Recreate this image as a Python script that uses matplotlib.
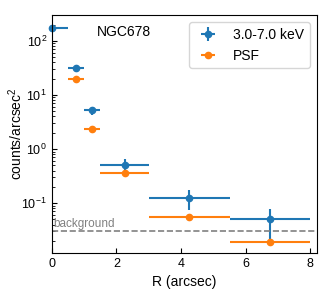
import numpy as np
import matplotlib
matplotlib.use("Agg")
import matplotlib.pyplot as plt

plt.rcParams['font.family'] = ['Liberation Sans', 'DejaVu Sans']
plt.rcParams['mathtext.fontset'] = 'custom'
plt.rcParams['mathtext.rm'] = 'Liberation Sans'
plt.rcParams['mathtext.it'] = 'Liberation Sans:italic'

# radial bins (arcsec): centre, left and right extent
r_center = [0.0, 0.75, 1.25, 2.25, 4.25, 6.75]
r_left = [0.0, 0.25, 0.25, 0.75, 1.25, 1.25]
r_right = [0.5, 0.25, 0.25, 0.75, 1.25, 1.25]

# 3.0-7.0 keV surface brightness
sb = [174, 31.6, 5.2, 0.50, 0.124, 0.050]
sb_err_lo = [0, 0, 0.9, 0.12, 0.049, 0.031]
sb_err_hi = [0, 0, 0.9, 0.15, 0.052, 0.029]

# PSF (first bin hidden under the data point)
psf = [np.nan, 19.6, 2.39, 0.363, 0.056, 0.0187]

background = 0.0303

fig = plt.figure(figsize=(3.24, 2.91), dpi=100)
ax = fig.add_axes([0.16, 0.131, 0.818, 0.817])

ax.errorbar(r_center, sb, xerr=[r_left, r_right], yerr=[sb_err_lo, sb_err_hi],
            fmt='o', color='C0', ms=4.5, lw=1.5, label='3.0-7.0 keV',
            clip_on=False)
ax.errorbar(r_center, psf, xerr=[r_left, r_right],
            fmt='o', color='C1', ms=4.5, lw=1.5, label='PSF')

ax.axhline(background, color='gray', ls='--', lw=1.2)
ax.text(0.05, background * 1.06, 'background', color='gray', fontsize=8.5,
        va='bottom')

ax.text(0.17, 0.93, 'NGC678', transform=ax.transAxes, fontsize=10,
        va='center')

ax.set_yscale('log')
ax.set_xlim(0, 8.2)
ax.set_ylim(0.012, 300)
ax.tick_params(which='both', direction='in', labelsize=9)
ax.set_xlabel('R (arcsec)', fontsize=10)
ax.set_ylabel('counts/arcsec$^2$', fontsize=10)
ax.yaxis.set_label_coords(-0.10, 0.5)
ax.legend(loc='upper right', fontsize=10)

fig.savefig('out.png', dpi=100)
